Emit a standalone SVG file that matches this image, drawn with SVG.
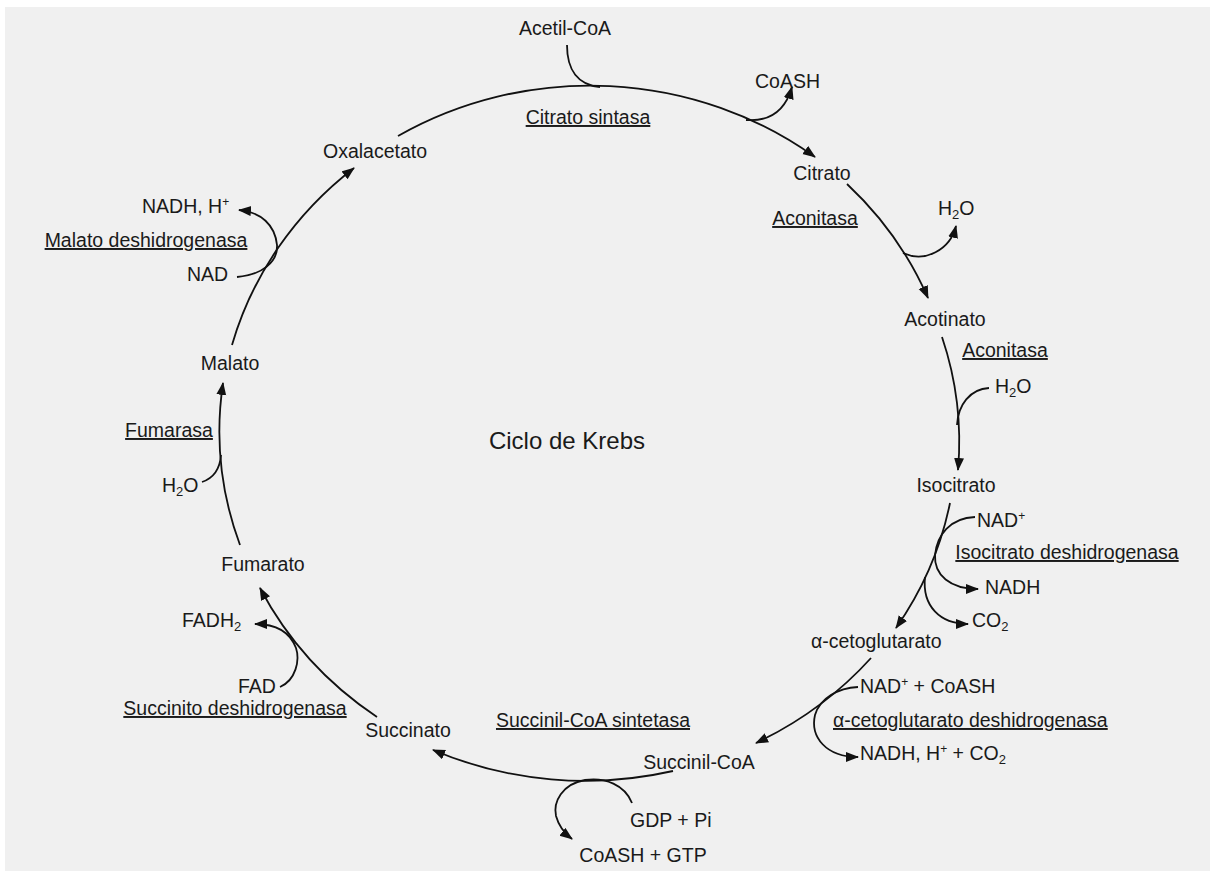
<svg xmlns="http://www.w3.org/2000/svg" width="1210" height="871" viewBox="0 0 1210 871">
<style>
text{font-family:"Liberation Sans",Arial,sans-serif;font-size:19.5px;fill:#1a1a1a}
.u{text-decoration:underline}
.m{text-anchor:middle}
.t{font-size:24px}
.c path{fill:none;stroke:#111;stroke-width:1.8}
.a{marker-end:url(#ah)}
.sub{font-size:13px}
.sup{font-size:12px}
</style>
<defs>
<marker id="ah" markerUnits="userSpaceOnUse" markerWidth="14" markerHeight="12" refX="12" refY="5" orient="auto">
<path d="M0,0 L13,5 L0,10 z" fill="#111"/>
</marker>
</defs>
<rect x="0" y="0" width="1210" height="871" fill="#ffffff"/>
<rect x="5" y="7" width="1205" height="864" fill="#f0f0f0"/>

<g class="c" id="connectors">
<path class="a" d="M398,136 A370,347 0 0 1 815,157"/>
<path class="a" d="M847,184 A370,347 0 0 1 928,298"/>
<path class="a" d="M942,337 A370,347 0 0 1 958,470"/>
<path class="a" d="M950,503 A370,347 0 0 1 896,628"/>
<path class="a" d="M871,658 A370,347 0 0 1 756,743"/>
<path class="a" d="M673,771 A370,347 0 0 1 433,750"/>
<path class="a" d="M377,717 A370,347 0 0 1 260,588"/>
<path class="a" d="M240,545 A370,347 0 0 1 223,383"/>
<path class="a" d="M232,345 A370,347 0 0 1 354,168"/>

<path d="M567,45 C567,70 578,85 600,87"/>
<path class="a" d="M746,120 C772,122 786,108 792,87"/>
<path class="a" d="M903,253 C925,263 950,250 956,226"/>
<path d="M989,388 C970,389 958,405 957,425"/>
<path class="a" d="M975,517 C950,518 937,535 935,555 C934,575 950,589 978,589"/>
<path class="a" d="M925,577 C922,606 940,624 968,624"/>
<path class="a" d="M858,687 C838,688 820,698 815,715 C810,737 826,757 858,757"/>
<path class="a" d="M632,803 C625,785 605,777 585,780 C562,784 553,802 556,816 C559,827 564,833 572,839"/>
<path class="a" d="M280,687 C296,680 300,660 296,648 C290,632 276,624 255,624"/>
<path class="a" d="M237,277 C262,275 278,262 277,245 C275,225 261,212 239,210"/>
<path d="M202,482 C214,478 220,468 221,455"/>
</g>

<g id="title"><text class="m t" x="567" y="449">Ciclo de Krebs</text></g>

<g id="acetil-coa"><text class="m" x="565" y="35">Acetil-CoA</text></g>
<g id="coash1"><text x="755" y="88">CoASH</text></g>
<g id="citrato-sintasa"><text class="m u" x="588" y="124">Citrato sintasa</text></g>
<g id="oxalacetato"><text class="m" x="375" y="158">Oxalacetato</text></g>
<g id="citrato"><text class="m" x="822" y="180">Citrato</text></g>
<g id="aconitasa1"><text class="m u" x="815" y="225">Aconitasa</text></g>
<g id="h2o1"><text x="938" y="215">H<tspan class="sub" dy="4">2</tspan><tspan dy="-4">O</tspan></text></g>
<g id="acotinato"><text class="m" x="945" y="326">Acotinato</text></g>
<g id="aconitasa2"><text class="m u" x="1005" y="357">Aconitasa</text></g>
<g id="h2o2"><text x="995" y="393">H<tspan class="sub" dy="4">2</tspan><tspan dy="-4">O</tspan></text></g>
<g id="isocitrato"><text class="m" x="956" y="492">Isocitrato</text></g>
<g id="nadp1"><text x="977" y="527">NAD<tspan class="sup" dy="-7">+</tspan></text></g>
<g id="isocitrato-dh"><text class="m u" x="1067" y="559">Isocitrato deshidrogenasa</text></g>
<g id="nadh1"><text x="985" y="594">NADH</text></g>
<g id="co2a"><text x="972" y="627">CO<tspan class="sub" dy="4">2</tspan></text></g>
<g id="a-cetoglutarato"><text x="811" y="648">α-cetoglutarato</text></g>
<g id="nad-coash"><text x="860" y="693">NAD<tspan class="sup" dy="-7">+</tspan><tspan dy="7"> + CoASH</tspan></text></g>
<g id="a-ceto-dh"><text class="u" x="833" y="727">α-cetoglutarato deshidrogenasa</text></g>
<g id="nadh-co2"><text x="860" y="760">NADH, H<tspan class="sup" dy="-7">+</tspan><tspan dy="7"> + CO</tspan><tspan class="sub" dy="4">2</tspan></text></g>
<g id="succinil-sintetasa"><text class="m u" x="593" y="727">Succinil-CoA sintetasa</text></g>
<g id="succinil-coa"><text class="m" x="699" y="769">Succinil-CoA</text></g>
<g id="gdp"><text x="630" y="827">GDP + Pi</text></g>
<g id="coash-gtp"><text class="m" x="643" y="862">CoASH + GTP</text></g>
<g id="succinato"><text class="m" x="408" y="737">Succinato</text></g>
<g id="succinito-dh"><text class="m u" x="235" y="715">Succinito deshidrogenasa</text></g>
<g id="fad"><text x="238" y="693">FAD</text></g>
<g id="fadh2"><text x="182" y="627">FADH<tspan class="sub" dy="4">2</tspan></text></g>
<g id="fumarato"><text class="m" x="263" y="571">Fumarato</text></g>
<g id="h2o3"><text x="162" y="492">H<tspan class="sub" dy="4">2</tspan><tspan dy="-4">O</tspan></text></g>
<g id="fumarasa"><text class="m u" x="169" y="437">Fumarasa</text></g>
<g id="malato"><text class="m" x="230" y="370">Malato</text></g>
<g id="nad"><text x="187" y="281">NAD</text></g>
<g id="malato-dh"><text class="m u" x="146" y="247">Malato deshidrogenasa</text></g>
<g id="nadh-h"><text x="142" y="213">NADH, H<tspan class="sup" dy="-7">+</tspan></text></g>
</svg>
